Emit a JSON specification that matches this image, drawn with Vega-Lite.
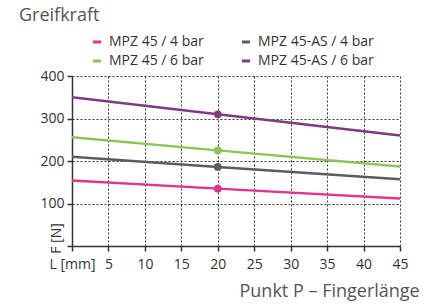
{
  "$schema": "https://vega.github.io/schema/vega-lite/v6.json",
  "width": 328,
  "height": 170,
  "autosize": {"type": "none"},
  "padding": {"left": 72, "top": 76, "right": 24, "bottom": 61},
  "background": "white",
  "title": {
    "text": "Greifkraft",
    "anchor": "start",
    "frame": "group",
    "dx": -53,
    "offset": 10,
    "font": "Open Sans",
    "fontSize": 18,
    "fontWeight": "normal",
    "color": "#555555"
  },
  "config": {
    "view": {"stroke": null},
    "font": "Open Sans",
    "axis": {
      "labelFont": "Open Sans",
      "labelFontSize": 14,
      "labelColor": "#333333",
      "labelOverlap": false,
      "labelFlush": false,
      "domainColor": "#333333",
      "domainWidth": 1.5,
      "tickColor": "#333333",
      "tickWidth": 1.5,
      "tickSize": 5,
      "grid": true,
      "gridColor": "#333333",
      "gridDash": [2, 2],
      "gridWidth": 1,
      "gridOpacity": 1
    }
  },
  "data": {
    "values": [
      {"series": "MPZ 45 / 4 bar", "L": 0, "F": 154},
      {"series": "MPZ 45 / 4 bar", "L": 20, "F": 135},
      {"series": "MPZ 45 / 4 bar", "L": 45, "F": 112},
      {"series": "MPZ 45-AS / 4 bar", "L": 0, "F": 210},
      {"series": "MPZ 45-AS / 4 bar", "L": 20, "F": 186},
      {"series": "MPZ 45-AS / 4 bar", "L": 45, "F": 157},
      {"series": "MPZ 45 / 6 bar", "L": 0, "F": 256},
      {"series": "MPZ 45 / 6 bar", "L": 20, "F": 225},
      {"series": "MPZ 45 / 6 bar", "L": 45, "F": 187},
      {"series": "MPZ 45-AS / 6 bar", "L": 0, "F": 350},
      {"series": "MPZ 45-AS / 6 bar", "L": 20, "F": 310},
      {"series": "MPZ 45-AS / 6 bar", "L": 45, "F": 260}
    ]
  },
  "encoding": {
    "x": {
      "field": "L",
      "type": "quantitative",
      "scale": {"domain": [0, 45], "nice": false},
      "axis": {
        "values": [0, 5, 10, 15, 20, 25, 30, 35, 40, 45],
        "labelExpr": "datum.value == 0 ? 'L [mm]' : datum.label",
        "labelPadding": 6,
        "title": "Punkt P – Fingerlänge",
        "titleFont": "Open Sans",
        "titleFontSize": 18,
        "titleFontWeight": "normal",
        "titleColor": "#555555",
        "titleAnchor": "start",
        "titleAlign": "left",
        "titleX": 167,
        "titleY": 50,
        "titleBaseline": "alphabetic"
      }
    },
    "y": {
      "field": "F",
      "type": "quantitative",
      "scale": {"domain": [0, 400], "nice": false},
      "axis": {
        "values": [0, 100, 200, 300, 400],
        "labelExpr": "datum.value == 0 ? '' : datum.label",
        "labelPadding": 3,
        "title": "F [N]",
        "titleFont": "Open Sans",
        "titleFontSize": 14,
        "titleFontWeight": "normal",
        "titleColor": "#333333",
        "titleAngle": 270,
        "titleAlign": "center",
        "titleBaseline": "middle",
        "titleX": -16,
        "titleY": 162
      }
    },
    "color": {
      "field": "series",
      "type": "nominal",
      "scale": {
        "domain": ["MPZ 45 / 4 bar", "MPZ 45 / 6 bar", "MPZ 45-AS / 4 bar", "MPZ 45-AS / 6 bar"],
        "range": ["#e0358f", "#8cc457", "#5c5c5c", "#7e3a84"]
      },
      "legend": {
        "orient": "none",
        "legendX": 18,
        "legendY": -41,
        "title": null,
        "columns": 2,
        "columnPadding": 32,
        "rowPadding": 5,
        "symbolType": "stroke",
        "symbolSize": 64,
        "symbolStrokeWidth": 3,
        "labelFont": "Open Sans",
        "labelFontSize": 14,
        "labelColor": "#333333",
        "labelOffset": 5
      }
    }
  },
  "layer": [
    {"mark": {"type": "line", "strokeWidth": 2.5, "clip": false}},
    {
      "transform": [{"filter": "datum.L == 20"}],
      "mark": {"type": "circle", "size": 60, "opacity": 1}
    }
  ]
}
